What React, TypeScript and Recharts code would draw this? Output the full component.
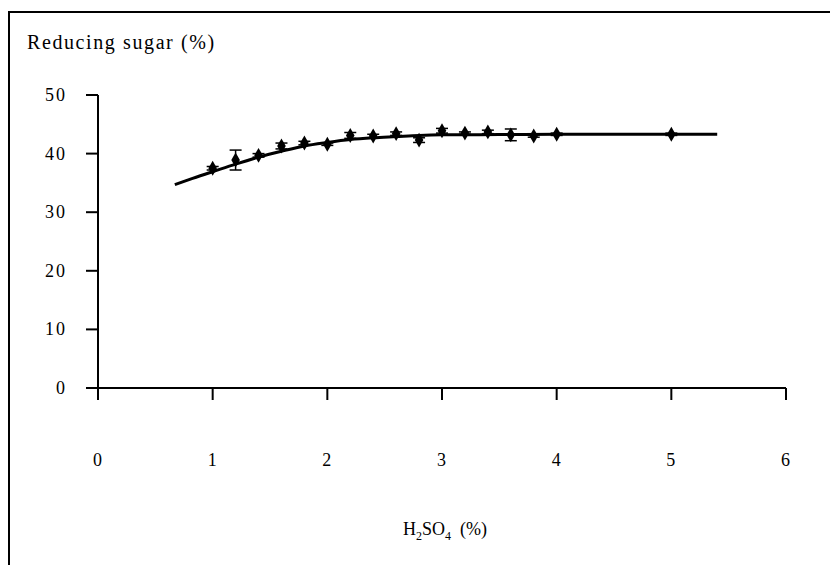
import {
	ComposedChart,
	Line,
	Scatter,
	ErrorBar,
	XAxis,
	YAxis,
} from "recharts";

// measured points (x = H2SO4 %, y = reducing sugar %)
const pointX = [1.0, 1.2, 1.4, 1.6, 1.8, 2.0, 2.2, 2.4, 2.6, 2.8, 3.0, 3.2, 3.4, 3.6, 3.8, 4.0, 5.0];
const pointY = [37.5, 38.9, 39.7, 41.3, 41.8, 41.6, 43.1, 43.0, 43.4, 42.3, 43.9, 43.5, 43.7, 43.2, 43.0, 43.3, 43.3];
const pointErr = [0.3, 1.7, 0.3, 0.5, 0.3, 0.2, 0.5, 0.3, 0.3, 0.4, 0.4, 0.2, 0.3, 1.0, 0.2, 0.2, 0.2];

// fitted curve
const curveX = [0.67, 0.8, 1.0, 1.2, 1.4, 1.6, 1.8, 2.0, 2.2, 2.4, 2.6, 2.8, 3.0, 3.5, 4.0, 4.5, 5.0, 5.4];
const curveY = [34.7, 35.6, 36.9, 38.2, 39.4, 40.4, 41.3, 41.9, 42.4, 42.7, 42.9, 43.1, 43.2, 43.25, 43.3, 43.3, 43.3, 43.3];

const xTicks = [0, 1, 2, 3, 4, 5, 6];
const yTicks = [0, 10, 20, 30, 40, 50];

const points = pointX.map((x, i) => ({ x, y: pointY[i], err: pointErr[i] }));
const curve = curveX.map((x, i) => ({ x, fit: curveY[i] }));

const FONT = '"Liberation Serif", "Times New Roman", serif';

const XTick = ({ x, y, payload }: any) => (
	<text x={x} y={y + 64} textAnchor="middle" fontFamily={FONT} fontSize={18} letterSpacing={1} fill="#000">
		{payload.value}
	</text>
);

const YTick = ({ x, y, payload }: any) => (
	<text x={x - 17} y={y + 6} textAnchor="end" fontFamily={FONT} fontSize={18} letterSpacing={2} fill="#000">
		{payload.value}
	</text>
);

export default function App() {
	return (
		<div
			style={{
				position: "absolute",
				left: 0,
				top: 0,
				width: 830,
				height: 565,
				background: "#fff",
				overflow: "hidden",
			}}
		>
			<div
				style={{
					position: "absolute",
					left: 8,
					top: 11,
					width: 830,
					height: 560,
					borderTop: "2px solid #000",
					borderLeft: "2px solid #000",
				}}
			/>
			<div
				style={{
					position: "absolute",
					left: 27,
					top: 31,
					fontFamily: FONT,
					fontSize: 20,
					letterSpacing: 1.6,
					color: "#000",
				}}
			>
				Reducing sugar (%)
			</div>
			<div
				style={{
					position: "absolute",
					left: 403,
					top: 519,
					fontFamily: FONT,
					fontSize: 18,
					color: "#000",
					whiteSpace: "pre",
				}}
			>
				H<sub style={{ fontSize: 12 }}>2</sub>SO<sub style={{ fontSize: 12 }}>4</sub>{"  (%)"}
			</div>
			<div style={{ position: "absolute", left: 0, top: 0 }}>
				<ComposedChart
					width={830}
					height={565}
					margin={{ top: 95, right: 44, bottom: 147, left: 38 }}
				>
					<XAxis
						type="number"
						dataKey="x"
						domain={[0, 6]}
						ticks={xTicks}
						height={30}
						tickSize={12}
						stroke="#000"
						strokeWidth={2}
						tick={<XTick />}
						allowDataOverflow
					/>
					<YAxis
						type="number"
						domain={[0, 50]}
						ticks={yTicks}
						width={60}
						tickSize={12}
						stroke="#000"
						strokeWidth={2}
						tick={<YTick />}
					/>
					<Line
						data={curve}
						dataKey="fit"
						type="monotone"
						stroke="#000"
						strokeWidth={3}
						dot={false}
						isAnimationActive={false}
					/>
					<Scatter
						data={points}
						dataKey="y"
						fill="#000"
						shape="diamond"
						size={30}
						legendType="none"
						isAnimationActive={false}
					>
						<ErrorBar dataKey="err" direction="y" width={6} stroke="#000" strokeWidth={1.5} />
					</Scatter>
				</ComposedChart>
			</div>
		</div>
	);
}
